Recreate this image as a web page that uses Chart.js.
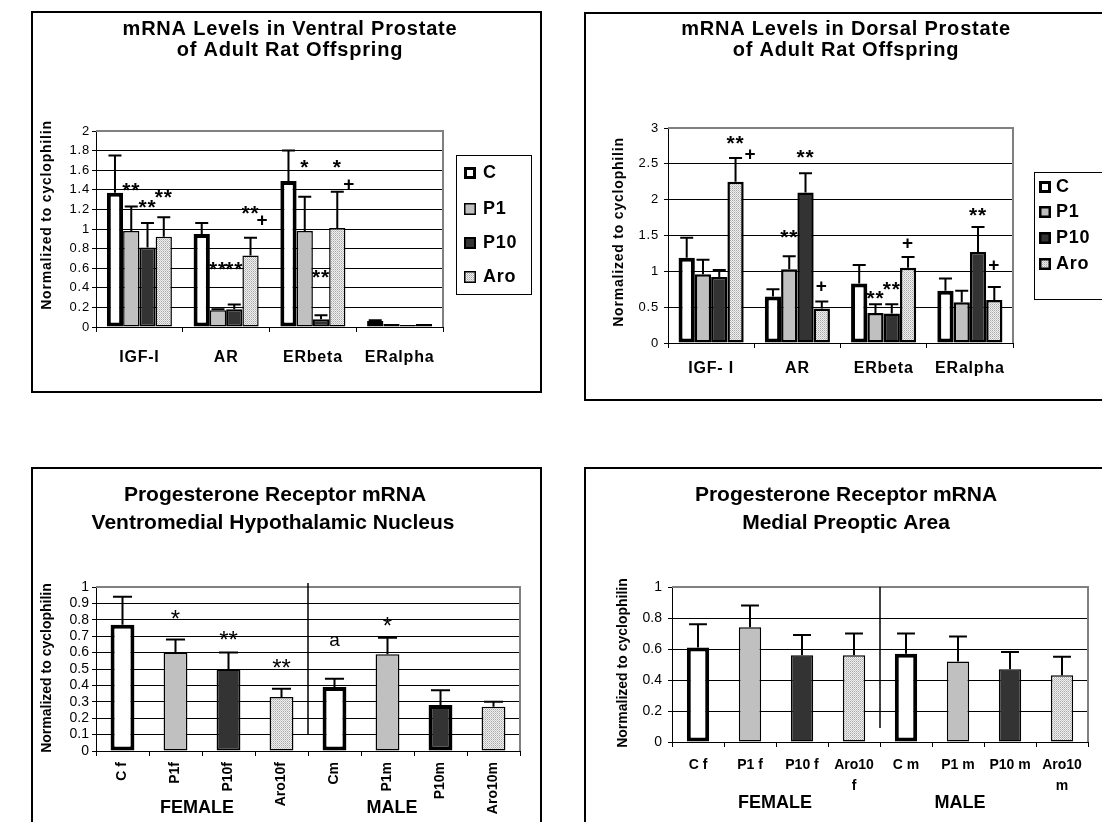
<!DOCTYPE html>
<html>
<head>
<meta charset="utf-8">
<title>mRNA levels</title>
<script src="https://cdn.jsdelivr.net/npm/chart.js@4.4.1/dist/chart.umd.min.js"></script>
<style>
  html, body { margin: 0; padding: 0; background: #fff; }
  body { width: 1102px; height: 822px; position: relative; overflow: hidden; }
  .panel { position: absolute; border: 2px solid #000; background: #fff; }
  .panel canvas { display: block; }
</style>
</head>
<body>
<div class="panel" style="left:31px;top:11px"><canvas id="vp" width="507" height="378"></canvas></div>
<div class="panel" style="left:584px;top:12px"><canvas id="dp" width="526" height="385"></canvas></div>
<div class="panel" style="left:31px;top:467px"><canvas id="vmh" width="507" height="376"></canvas></div>
<div class="panel" style="left:584px;top:467px"><canvas id="mpoa" width="526" height="376"></canvas></div>

<script>
const FONT = "'Liberation Sans', Arial, Helvetica, sans-serif"
Chart.defaults.font.family = FONT
Chart.defaults.color = '#000'

const groups = ['C', 'P1', 'P10', 'Aro']

// ventral prostate
const vpGenes = ['IGF-I', 'AR', 'ERbeta', 'ERalpha']
const vpC = [1.37, 0.95, 1.49, 0.06]
const vpCErr = [0.38, 0.11, 0.31, 0.01]
const vpP1 = [0.98, 0.17, 0.98, 0.03]
const vpP1Err = [0.25, 0.01, 0.35, 0]
const vpP10 = [0.81, 0.18, 0.08, 0.02]
const vpP10Err = [0.25, 0.05, 0.04, 0]
const vpAro = [0.92, 0.73, 1.01, 0.03]
const vpAroErr = [0.2, 0.18, 0.37, 0]
// [gene, group, value, mark, side]
const vpMarks = [
  [0, 1, 1.45, '**'], [0, 2, 1.28, '**'], [0, 3, 1.38, '**'],
  [1, 1, 0.64, '**'], [1, 2, 0.64, '**'], [1, 3, 1.22, '**'], [1, 3, 1.1, '+', 'r'],
  [2, 1, 1.69, '*'], [2, 3, 1.69, '*'], [2, 3, 1.47, '+', 'r'], [2, 2, 0.56, '**'],
]

// dorsal prostate
const dpGenes = ['IGF- I', 'AR', 'ERbeta', 'ERalpha']
const dpC = [1.19, 0.65, 0.83, 0.73]
const dpCErr = [0.28, 0.1, 0.26, 0.17]
const dpP1 = [0.96, 1.03, 0.42, 0.57]
const dpP1Err = [0.2, 0.18, 0.12, 0.16]
const dpP10 = [0.92, 2.1, 0.41, 1.27]
const dpP10Err = [0.1, 0.27, 0.13, 0.35]
const dpAro = [2.25, 0.48, 1.05, 0.6]
const dpAroErr = [0.33, 0.1, 0.15, 0.18]
const dpMarks = [
  [0, 3, 2.86, '**'], [0, 3, 2.65, '+', 'r'],
  [1, 1, 1.55, '**'], [1, 2, 2.67, '**'], [1, 3, 0.81, '+'],
  [2, 1, 0.7, '**'], [2, 2, 0.83, '**'], [2, 3, 1.4, '+'],
  [3, 2, 1.86, '**'], [3, 3, 1.1, '+'],
]

// progesterone receptor, VMH
const vmhLabels = ['C f', 'P1f', 'P10f', 'Aro10f', 'Cm', 'P1m', 'P10m', 'Aro10m']
const vmhMean = [0.77, 0.6, 0.5, 0.33, 0.39, 0.59, 0.28, 0.27]
const vmhErr = [0.17, 0.08, 0.1, 0.05, 0.05, 0.1, 0.09, 0.03]
const vmhMarks = [[1, 0, 0.84, '*'], [2, 0, 0.71, '**'], [3, 0, 0.54, '**'], [4, 0, 0.67, 'a'], [5, 0, 0.8, '*']]

// progesterone receptor, MPOA
const mpoaLabels = ['C f', 'P1 f', 'P10 f', ['Aro10', 'f'], 'C m', 'P1 m', 'P10 m', ['Aro10', 'm']]
const mpoaMean = [0.61, 0.74, 0.56, 0.56, 0.57, 0.52, 0.47, 0.43]
const mpoaErr = [0.15, 0.14, 0.13, 0.14, 0.13, 0.16, 0.11, 0.12]

const sexes = ['FEMALE', 'MALE']
const yTitle = 'Normalized to cyclophilin'

function hatch(ctx) {
  const c = document.createElement('canvas')
  c.width = 2
  c.height = 2
  const g = c.getContext('2d')
  g.fillStyle = '#f0f0f0'
  g.fillRect(0, 0, 2, 2)
  g.fillStyle = '#a8a8a8'
  g.fillRect(0, 0, 1, 1)
  g.fillStyle = '#c8c8c8'
  g.fillRect(1, 1, 1, 1)
  return ctx.createPattern(c, 'repeat')
}

function text(ctx, s, x, y, font, align, base, rot) {
  ctx.save()
  ctx.font = font
  ctx.fillStyle = '#000'
  ctx.textAlign = align || 'center'
  ctx.textBaseline = base || 'middle'
  ctx.translate(x, y)
  if (rot) ctx.rotate(rot)
  ctx.fillText(s, 0, 0)
  ctx.restore()
}

function deco(cfg) {
  return {
    id: 'deco',
    beforeDraw(chart) {
      chart.ctx.letterSpacing = cfg.spacing
    },
    beforeDatasetsDraw(chart) {
      const { ctx, chartArea: a } = chart
      ctx.save()
      ctx.strokeStyle = '#808080'
      ctx.lineWidth = 2
      ctx.beginPath()
      ctx.moveTo(a.left, a.top)
      ctx.lineTo(a.right, a.top)
      ctx.lineTo(a.right, a.bottom)
      ctx.stroke()
      ctx.restore()
    },
    afterDatasetsDraw(chart) {
      const { ctx, scales: { x, y } } = chart
      chart.data.datasets.forEach((ds, di) => {
        chart.getDatasetMeta(di).data.forEach((bar, i) => {
          const e = ds.err[i]
          if (!e) return
          const top = y.getPixelForValue(ds.data[i] + e)
          const half = bar.width * 0.4
          ctx.save()
          ctx.strokeStyle = '#000'
          ctx.lineWidth = 2
          ctx.beginPath()
          ctx.moveTo(bar.x, bar.y)
          ctx.lineTo(bar.x, top)
          ctx.moveTo(bar.x - half, top)
          ctx.lineTo(bar.x + half, top)
          ctx.stroke()
          ctx.restore()
        })
      })
      if (cfg.divider) {
        const px = (x.getPixelForValue(3) + x.getPixelForValue(4)) / 2
        ctx.save()
        ctx.strokeStyle = '#000'
        ctx.lineWidth = 1.5
        ctx.beginPath()
        ctx.moveTo(px, y.getPixelForValue(cfg.divider[0]))
        ctx.lineTo(px, chart.chartArea.top - cfg.divider[1])
        ctx.stroke()
        ctx.restore()
      }
      ;(cfg.marks || []).forEach(([cat, ser, v, t, side]) => {
        const bar = chart.getDatasetMeta(ser).data[cat]
        const px = bar.x + (side === 'r' ? cfg.markShift : 0)
        const size = t === '+' ? cfg.plusSize : t === 'a' ? 19 : cfg.markSize
        const lift = t === '+' ? 0.35 : t === 'a' ? 0.26 : 0.58
        const weight = cfg.markBold && t !== 'a' ? 'bold ' : ''
        text(ctx, t, px, y.getPixelForValue(v) + lift * size, `${weight}${size}px ${FONT}`, 'center', 'alphabetic')
      })
    },
    afterDraw(chart) {
      const ctx = chart.ctx
      cfg.titles.forEach(([s, tx, ty]) => text(ctx, s, tx, ty, cfg.titleFont))
      text(ctx, yTitle, cfg.yTitleAt[0], cfg.yTitleAt[1], `bold 14px ${FONT}`, 'center', 'middle', -Math.PI / 2)
      if (cfg.sexAt) {
        cfg.sexAt.forEach(([tx, ty], i) => text(ctx, sexes[i], tx, ty, `bold 18px ${FONT}`))
      }
      const L = cfg.legend
      if (L) {
        ctx.save()
        ctx.fillStyle = '#fff'
        ctx.strokeStyle = '#000'
        ctx.lineWidth = 1
        ctx.fillRect(L.box[0], L.box[1], L.box[2] - L.box[0], L.box[3] - L.box[1])
        ctx.strokeRect(L.box[0] + 0.5, L.box[1] + 0.5, L.box[2] - L.box[0], L.box[3] - L.box[1])
        chart.data.datasets.forEach((ds, i) => {
          const cy = L.rows[i]
          const bw = Math.min(ds.borderWidth, 3)
          ctx.fillStyle = ds.backgroundColor
          ctx.fillRect(L.sx, cy - L.sw / 2, L.sw, L.sw)
          ctx.lineWidth = bw
          ctx.strokeStyle = '#000'
          ctx.strokeRect(L.sx + bw / 2, cy - L.sw / 2 + bw / 2, L.sw - bw, L.sw - bw)
          text(ctx, ds.label, L.tx, cy, `bold 18px ${FONT}`, 'left', 'middle')
        })
        ctx.restore()
      }
    },
  }
}

function options(cfg) {
  const yMax = cfg.yMax
  return {
    responsive: false,
    animation: false,
    layout: { autoPadding: false, padding: cfg.pad },
    plugins: { legend: { display: false }, tooltip: { enabled: false }, title: { display: false } },
    scales: {
      x: {
        grid: { display: true, drawOnChartArea: false, drawTicks: true, tickLength: 5, offset: true, color: '#000' },
        border: { color: '#000', width: 1 },
        ticks: {
          autoSkip: false,
          maxRotation: cfg.xRot,
          minRotation: cfg.xRot,
          padding: cfg.xPad,
          font: { size: cfg.xFont, weight: 'bold', lineHeight: cfg.xLine || 1.2 },
        },
        afterFit: (s) => { s.height = cfg.xHeight },
      },
      y: {
        min: 0,
        max: yMax,
        grid: {
          color: (c) => (c.tick && c.tick.value === yMax ? '#808080' : '#000'),
          tickColor: '#000',
          tickLength: 4,
        },
        border: { color: '#000', width: 1 },
        ticks: {
          stepSize: cfg.yStep,
          autoSkip: false,
          maxTicksLimit: 20,
          padding: cfg.yPad,
          font: { size: cfg.yFont, lineHeight: 1 },
          callback: (v) => String(+v.toFixed(2)),
        },
        afterFit: (s) => { s.width = cfg.yWidth },
      },
    },
  }
}

function groupedChart(id, cfg) {
  const ctx = document.getElementById(id).getContext('2d')
  const fills = ['#ffffff', '#c0c0c0', '#333333', hatch(ctx)]
  const datasets = cfg.series.map(([vals, errs], i) => ({
    label: groups[i],
    data: vals,
    err: errs,
    backgroundColor: fills[i],
    borderColor: '#000',
    borderWidth: cfg.borders[i],
    borderSkipped: false,
    categoryPercentage: cfg.catPct,
    barPercentage: 1,
  }))
  return new Chart(ctx, {
    type: 'bar',
    data: { labels: cfg.labels, datasets },
    options: options(cfg),
    plugins: [deco(cfg)],
  })
}

function sexChart(id, cfg) {
  const ctx = document.getElementById(id).getContext('2d')
  const h = hatch(ctx)
  const fills = ['#ffffff', '#c0c0c0', '#333333', h, '#ffffff', '#c0c0c0', '#333333', h]
  return new Chart(ctx, {
    type: 'bar',
    data: {
      labels: cfg.labels,
      datasets: [{
        data: cfg.mean,
        err: cfg.err,
        backgroundColor: fills,
        borderColor: '#000',
        borderWidth: cfg.borders,
        borderSkipped: false,
        categoryPercentage: 1,
        barPercentage: cfg.barPct,
      }],
    },
    options: options(cfg),
    plugins: [deco(cfg)],
  })
}

groupedChart('vp', {
  labels: vpGenes,
  series: [[vpC, vpCErr], [vpP1, vpP1Err], [vpP10, vpP10Err], [vpAro, vpAroErr]],
  borders: [4, 1.5, 2, 1.5],
  catPct: 0.75,
  yMax: 2, yStep: 0.2, yFont: 13, yPad: 2, yWidth: 63,
  xFont: 16, xPad: 16, xRot: 0, xHeight: 64,
  pad: { left: 0, top: 118, right: 97, bottom: 0 },
  spacing: '0.8px',
  titleFont: `bold 20px ${FONT}`,
  titles: [['mRNA Levels in Ventral Prostate', 257, 16], ['of Adult Rat Offspring', 257, 37]],
  yTitleAt: [14, 202],
  legend: { box: [423, 142, 498, 281], sx: 431, sw: 12, tx: 450, rows: [160, 196, 230, 264] },
  marks: vpMarks, markBold: true, markSize: 21, plusSize: 19, markShift: 12,
})

groupedChart('dp', {
  labels: dpGenes,
  series: [[dpC, dpCErr], [dpP1, dpP1Err], [dpP10, dpP10Err], [dpAro, dpAroErr]],
  borders: [4, 2.5, 2.5, 2.5],
  catPct: 0.755,
  yMax: 3, yStep: 0.5, yFont: 13, yPad: 5, yWidth: 82,
  xFont: 16, xPad: 11, xRot: 0, xHeight: 56,
  pad: { left: 0, top: 114, right: 99, bottom: 0 },
  spacing: '0.8px',
  titleFont: `bold 20px ${FONT}`,
  titles: [['mRNA Levels in Dorsal Prostate', 260, 15], ['of Adult Rat Offspring', 260, 36]],
  yTitleAt: [33, 218],
  legend: { box: [448, 158, 560, 285], sx: 453, sw: 12, tx: 470, rows: [173, 198, 224, 250] },
  marks: dpMarks, markBold: true, markSize: 21, plusSize: 19, markShift: 15,
})

sexChart('vmh', {
  labels: vmhLabels, mean: vmhMean, err: vmhErr,
  borders: [4, 1.5, 2, 1.5, 4, 1.5, 4, 1.5],
  barPct: 0.45,
  yMax: 1, yStep: 0.1, yFont: 14, yPad: 3, yWidth: 63,
  xFont: 14, xPad: 6, xRot: 90, xHeight: 94,
  pad: { left: 0, top: 118, right: 20, bottom: 0 },
  spacing: '0px',
  titleFont: `bold 21px ${FONT}`,
  titles: [['Progesterone Receptor mRNA', 242, 26], ['Ventromedial Hypothalamic Nucleus', 240, 54]],
  yTitleAt: [14, 199],
  sexAt: [[164, 339], [359, 339]],
  divider: [0.1, 4],
  marks: vmhMarks, markBold: false, markSize: 24, plusSize: 20, markShift: 0,
})

sexChart('mpoa', {
  labels: mpoaLabels, mean: mpoaMean, err: mpoaErr,
  borders: [4, 1.5, 1.5, 1.5, 4, 1.5, 1.5, 1.5],
  barPct: 0.43,
  yMax: 1, yStep: 0.2, yFont: 14, yPad: 6, yWidth: 86,
  xFont: 14, xPad: 7, xRot: 0, xLine: 1.55, xHeight: 103,
  pad: { left: 0, top: 118, right: 24, bottom: 0 },
  spacing: '0px',
  titleFont: `bold 21px ${FONT}`,
  titles: [['Progesterone Receptor mRNA', 260, 26], ['Medial Preoptic Area', 260, 54]],
  yTitleAt: [37, 194],
  sexAt: [[189, 334], [374, 334]],
  divider: [0.09, 0],
})
</script>
</body>
</html>
